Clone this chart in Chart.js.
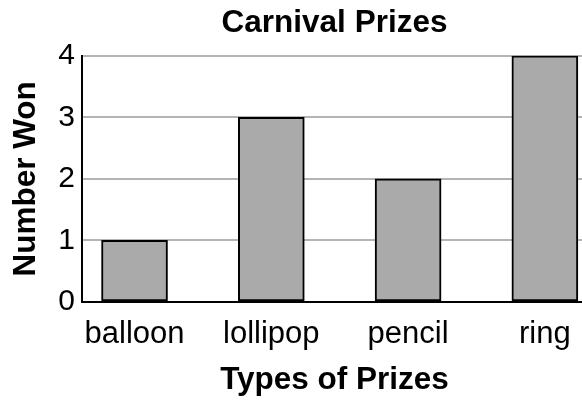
<!DOCTYPE html>
<html>
<head>
<meta charset="utf-8">
<script src="https://cdn.jsdelivr.net/npm/chart.js@4/dist/chart.umd.min.js"></script>
<style>
  html, body { margin: 0; padding: 0; background: #fff; overflow: hidden; }
  #wrap { position: relative; width: 600px; height: 400px; }
</style>
</head>
<body>
<div id="wrap"><canvas id="prizeChart"></canvas></div>
<script>
  // Carnival Prizes - bar chart
  const prizes = ['balloon', 'lollipop', 'pencil', 'ring'];
  const numberWon = [1, 3, 2, 4];
  const yTicks = [0, 1, 2, 3, 4];

  const font = "'Liberation Sans', Arial, Helvetica, sans-serif";

  const el = document.getElementById('prizeChart');

  new Chart(el, {
    type: 'bar',
    data: {
      datasets: [{
        label: 'Number Won',
        data: prizes.map(function (p, i) { return { x: i, y: numberWon[i] }; }),
        backgroundColor: '#aaaaaa',
        borderColor: '#000000',
        borderWidth: 2,
        borderSkipped: false,
        barThickness: 66
      }]
    },
    options: {
      responsive: true,
      maintainAspectRatio: false,
      animation: false,
      layout: { padding: { left: 0, right: 13, top: 0, bottom: 0 } },
      plugins: {
        legend: { display: false },
        tooltip: { enabled: false },
        title: {
          display: true,
          text: 'Carnival Prizes',
          fullSize: false,
          color: '#000',
          font: { family: font, size: 31.5, weight: 'bold', lineHeight: 1.2 },
          padding: { top: 4, bottom: 14 }
        }
      },
      scales: {
        x: {
          type: 'linear',
          offset: false,
          min: -0.384,
          max: 3.308,
          grid: { display: false, offset: false },
          border: { display: true, color: '#000', width: 2 },
          afterBuildTicks: function (scale) {
            scale.ticks = prizes.map(function (p, i) { return { value: i }; });
          },
          afterFit: function (scale) { scale.height = 98; },
          ticks: {
            autoSkip: false,
            maxRotation: 0,
            padding: 6,
            color: '#000',
            font: { family: font, size: 31 },
            callback: function (v) { return prizes[v]; }
          },
          title: {
            display: true,
            text: 'Types of Prizes',
            color: '#000',
            font: { family: font, size: 31.5, weight: 'bold', lineHeight: 1.2 },
            padding: { top: 0, bottom: 1 }
          }
        },
        y: {
          min: 0,
          max: 4,
          afterBuildTicks: function (scale) {
            scale.ticks = yTicks.map(function (v) { return { value: v }; });
          },
          afterFit: function (scale) { scale.width = 82; },
          grid: { color: '#b4b4b4', lineWidth: 2, drawTicks: false },
          border: { display: true, color: '#000', width: 2 },
          ticks: {
            padding: 7,
            color: '#000',
            font: { family: font, size: 30 }
          },
          title: {
            display: true,
            text: 'Number Won',
            color: '#000',
            font: { family: font, size: 31.5, weight: 'bold', lineHeight: 1.2 },
            padding: { top: 7, bottom: 0 }
          }
        }
      }
    }
  });
</script>
</body>
</html>
